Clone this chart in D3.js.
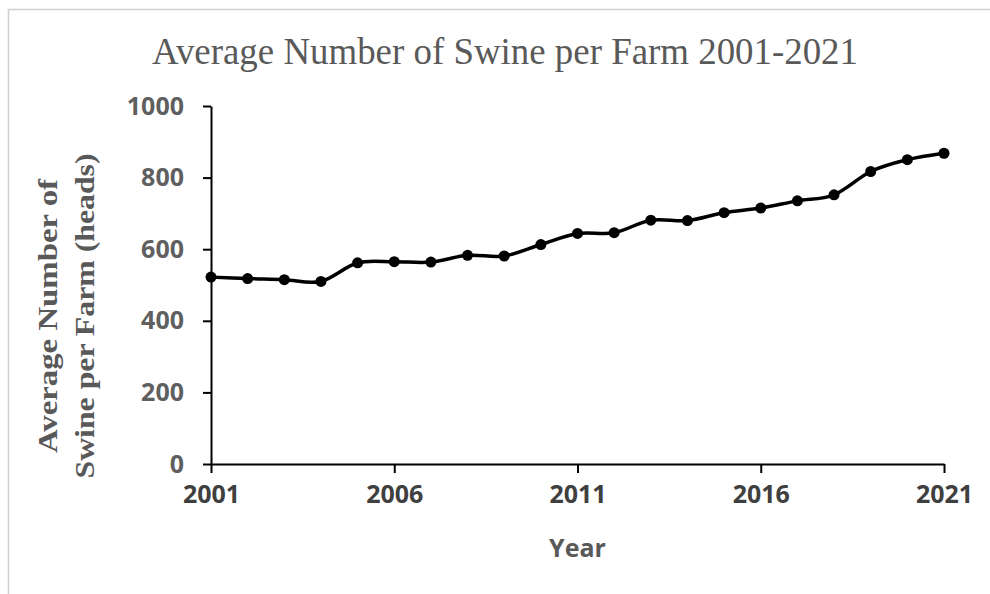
<!DOCTYPE html>
<html>
<head>
<meta charset="utf-8">
<script src="https://cdn.jsdelivr.net/npm/d3@7/dist/d3.min.js"></script>
<style>
  html, body { margin: 0; padding: 0; background: #fff; }
  svg { display: block; }
</style>
</head>
<body>
<svg id="chart" width="990" height="594"></svg>
<script>
// Average number of swine per farm, by year
const years = [2001, 2002, 2003, 2004, 2005, 2006, 2007, 2008, 2009, 2010, 2011,
               2012, 2013, 2014, 2015, 2016, 2017, 2018, 2019, 2020, 2021];
const swinePerFarm = [522, 518, 515, 510, 562, 565, 564, 583, 581, 613, 644,
                      646, 681, 680, 702, 715, 735, 752, 817, 850, 868];
const xTickYears = [2001, 2006, 2011, 2016, 2021];
const yTicks = [0, 200, 400, 600, 800, 1000];

const svg = d3.select("#chart");
const grey = "#595959";
const sansBold = "'Open Sans', 'Liberation Sans', sans-serif";
const serif = "'Liberation Serif', 'Times New Roman', serif";

const plot = { left: 211, right: 944, top: 106, bottom: 464 };

const x = d3.scaleLinear().domain([2001, 2021]).range([plot.left, plot.right]);
const y = d3.scaleLinear().domain([0, 1000]).range([plot.bottom, plot.top]);

// light frame around the chart area
svg.append("path")
  .attr("d", "M8.5,594 V9.5 H990")
  .attr("fill", "none")
  .attr("stroke", "#d0d0d0")
  .attr("stroke-width", 1.5);

// title
svg.append("text")
  .attr("x", 152).attr("y", 64)
  .attr("font-family", serif)
  .attr("font-size", 37)
  .attr("fill", grey)
  .attr("textLength", 706)
  .attr("lengthAdjust", "spacingAndGlyphs")
  .text("Average  Number  of  Swine  per  Farm  2001-2021");

// y axis
const yAxis = svg.append("g")
  .attr("transform", `translate(${plot.left},0)`)
  .call(d3.axisLeft(y).tickValues(yTicks).tickSize(8).tickSizeOuter(0).tickPadding(19)
        .tickFormat(d3.format("d")));
yAxis.select(".domain").attr("stroke", "#000").attr("stroke-width", 2);
yAxis.selectAll(".tick line").attr("stroke", "#000").attr("stroke-width", 2);
yAxis.selectAll(".tick text")
  .attr("font-family", sansBold).attr("font-weight", 700)
  .attr("font-size", 25).attr("fill", "#5f5f5f");

// x axis
const xAxis = svg.append("g")
  .attr("transform", `translate(0,${plot.bottom})`)
  .call(d3.axisBottom(x).tickValues(xTickYears).tickSize(9).tickSizeOuter(0).tickPadding(12)
        .tickFormat(d3.format("d")));
xAxis.select(".domain").attr("stroke", "#000").attr("stroke-width", 2);
xAxis.selectAll(".tick line").attr("stroke", "#000").attr("stroke-width", 2);
xAxis.selectAll(".tick text")
  .attr("font-family", sansBold).attr("font-weight", 700)
  .attr("font-size", 25).attr("fill", "#3f3f3f");

// axis titles
svg.append("text")
  .attr("x", (plot.left + plot.right) / 2).attr("y", 557)
  .attr("text-anchor", "middle")
  .attr("font-family", sansBold).attr("font-weight", 700)
  .attr("font-size", 25).attr("fill", grey)
  .text("Year");

const yTitle = svg.append("text")
  .attr("transform", "translate(0,316) rotate(-90)")
  .attr("text-anchor", "middle")
  .attr("font-family", serif).attr("font-weight", 700)
  .attr("font-size", 28).attr("fill", grey);
yTitle.append("tspan").attr("x", 0).attr("y", 57)
  .attr("textLength", 274).attr("lengthAdjust", "spacingAndGlyphs")
  .text("Average Number of");
yTitle.append("tspan").attr("x", 0).attr("y", 94)
  .attr("textLength", 325).attr("lengthAdjust", "spacingAndGlyphs")
  .text("Swine per Farm (heads)");

// series line and markers
const data = years.map((yr, i) => ({ year: yr, value: swinePerFarm[i] }));

svg.append("path")
  .datum(data)
  .attr("fill", "none")
  .attr("stroke", "#000")
  .attr("stroke-width", 3.5)
  .attr("stroke-linejoin", "round")
  .attr("d", d3.line().x(d => x(d.year)).y(d => y(d.value)).curve(d3.curveCardinal.tension(0)));

svg.append("g").selectAll("circle")
  .data(data)
  .join("circle")
  .attr("cx", d => x(d.year))
  .attr("cy", d => y(d.value))
  .attr("r", 5.5)
  .attr("fill", "#000");
</script>
</body>
</html>
